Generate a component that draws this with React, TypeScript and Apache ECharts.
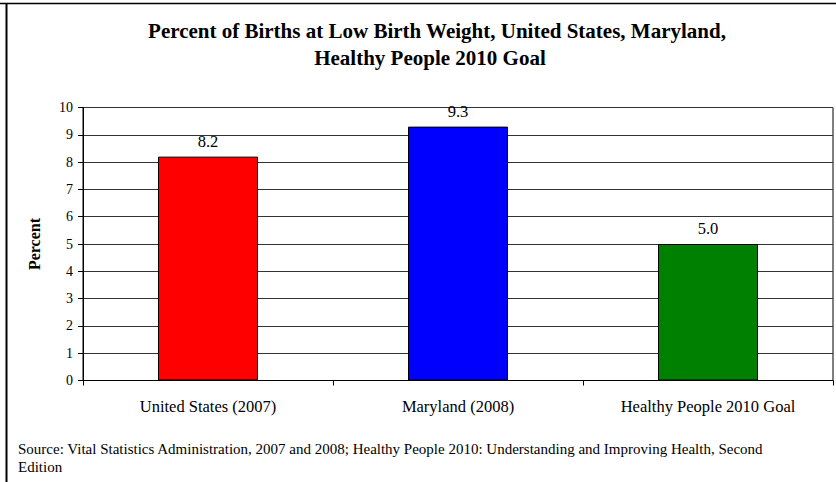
import React, { useEffect, useRef } from "react";
import * as echarts from "echarts";

const categories = ["United States (2007)", "Maryland (2008)", "Healthy People 2010 Goal"];
const values = [8.2, 9.3, 5.0];
const barColors = ["#FF0000", "#0000FF", "#008000"];
const titleLines = ["Percent of Births at Low Birth Weight, United States, Maryland,", "Healthy People 2010 Goal"];
const sourceLines = [
  "Source: Vital Statistics Administration, 2007 and 2008; Healthy People 2010: Understanding and Improving Health, Second",
  "Edition",
];
const yAxisName = "Percent";

const FONT = "'Liberation Serif', 'Times New Roman', serif";

export default function App() {
  const ref = useRef<HTMLDivElement>(null);
  useEffect(() => {
    if (!ref.current) return;
    const chart = echarts.init(ref.current, null, { renderer: "svg" });
    chart.setOption({
      animation: false,
      backgroundColor: "#ffffff",
      textStyle: { fontFamily: FONT },
      grid: {
        left: 83,
        right: 3,
        top: 107.5,
        bottom: 101.5,
        show: true,
        borderColor: "#000000",
        borderWidth: 1,
        backgroundColor: "transparent",
      },
      xAxis: {
        type: "category",
        data: categories,
        axisLine: { show: true, lineStyle: { color: "#000000", width: 1 } },
        axisTick: { show: true, alignWithLabel: false, length: 5, lineStyle: { color: "#000000" } },
        axisLabel: { color: "#000000", fontSize: 16.5, fontFamily: FONT, margin: 17 },
        splitLine: { show: false },
      },
      yAxis: {
        type: "value",
        min: 0,
        max: 10,
        interval: 1,
        name: yAxisName,
        nameLocation: "middle",
        nameRotate: 90,
        nameGap: 41,
        nameTextStyle: { color: "#000000", fontSize: 16, fontWeight: "bold", fontFamily: FONT },
        axisLine: { show: true, lineStyle: { color: "#000000", width: 1 } },
        axisTick: { show: true, inside: false, length: 5, lineStyle: { color: "#000000" } },
        axisLabel: { color: "#000000", fontSize: 14, fontFamily: FONT, margin: 10 },
        splitLine: { show: true, lineStyle: { color: "#333333", width: 1 } },
      },
      series: [
        {
          type: "bar",
          barWidth: 100,
          data: values.map((v, i) => ({
            value: v,
            itemStyle: { color: barColors[i], borderColor: "#000000", borderWidth: 1 },
          })),
          label: {
            show: true,
            position: "top",
            distance: 7,
            color: "#000000",
            fontSize: 16.5,
            fontFamily: FONT,
            formatter: (p: any) => Number(p.value).toFixed(1),
          },
        },
      ],
      graphic: [
        {
          type: "line",
          shape: { x1: 0, y1: 3.5, x2: 836, y2: 3.5 },
          style: { stroke: "#000000", lineWidth: 1.5 },
        },
        {
          type: "line",
          shape: { x1: 6.5, y1: 3, x2: 6.5, y2: 482 },
          style: { stroke: "#000000", lineWidth: 2 },
        },
        {
          type: "text",
          style: {
            text: titleLines[0],
            x: 437,
            y: 31,
            align: "center",
            verticalAlign: "middle",
            font: `bold 21px ${FONT}`,
            fill: "#000000",
          },
        },
        {
          type: "text",
          style: {
            text: titleLines[1],
            x: 430,
            y: 58,
            align: "center",
            verticalAlign: "middle",
            font: `bold 21px ${FONT}`,
            fill: "#000000",
          },
        },
        {
          type: "text",
          style: {
            text: sourceLines[0],
            x: 18,
            y: 449,
            align: "left",
            verticalAlign: "middle",
            font: `15px ${FONT}`,
            fill: "#000000",
          },
        },
        {
          type: "text",
          style: {
            text: sourceLines[1],
            x: 18,
            y: 467,
            align: "left",
            verticalAlign: "middle",
            font: `15px ${FONT}`,
            fill: "#000000",
          },
        },
      ],
    });
    return () => chart.dispose();
  }, []);
  return <div ref={ref} style={{ width: 836, height: 482, position: "absolute", left: 0, top: 0 }} />;
}
